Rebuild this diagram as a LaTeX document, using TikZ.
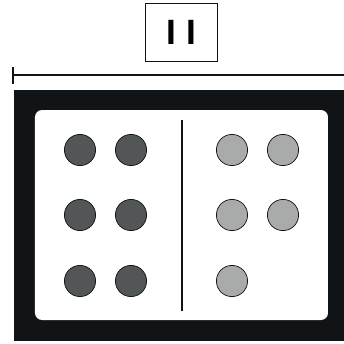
\documentclass[tikz,border=0pt]{standalone}
\usepackage{fontspec}
\setmainfont{Liberation Sans}
\usetikzlibrary{positioning}
\definecolor{frameblack}{HTML}{111416}
\definecolor{darkdot}{HTML}{525656}
\definecolor{lightdot}{HTML}{A9ABAA}

\begin{document}
\begin{tikzpicture}[
  x=0.025cm, y=-0.025cm,
  dot/.style={circle, draw=frameblack, line width=0.5pt, minimum size=0.78cm, inner sep=0pt},
  labelbox/.style={rectangle, draw=frameblack, line width=1.4pt, minimum width=1.8cm, minimum height=1.45cm, font=\bfseries\fontsize{25}{25}\selectfont},
  rule/.style={draw=frameblack, line width=1.4pt}
]
  \useasboundingbox (0,0) rectangle (344,344);
  % label and dimension line
  \node[labelbox] (label) at (181.5,32.5) {I I};
  \coordinate (dimL) at (13,75);
  \coordinate (dimR) at (344,75);
  \draw[rule] (dimL) -- (dimR);
  \draw[rule] ([yshift=0.2cm]dimL) -- ([yshift=-0.22cm]dimL);
  % case with white panel
  \fill[frameblack] (14,90) rectangle (346,341);
  \fill[white, rounded corners=5] (35,110) rectangle (328,320);
  \coordinate (divTop) at (182,120);
  \coordinate (divBot) at (182,311);
  \draw[rule] (divTop) -- (divBot);
  % left group
  \node[dot, fill=darkdot] (d1) at (80,150) {};
  \node[dot, fill=darkdot] (d2) at (131,150) {};
  \node[dot, fill=darkdot] (d3) at (80,215) {};
  \node[dot, fill=darkdot] (d4) at (131,215) {};
  \node[dot, fill=darkdot] (d5) at (80,281) {};
  \node[dot, fill=darkdot] (d6) at (131,281) {};
  % right group
  \node[dot, fill=lightdot] (l1) at (232,150) {};
  \node[dot, fill=lightdot] (l2) at (283,150) {};
  \node[dot, fill=lightdot] (l3) at (232,215) {};
  \node[dot, fill=lightdot] (l4) at (283,215) {};
  \node[dot, fill=lightdot] (l5) at (232,281) {};
\end{tikzpicture}
\end{document}
